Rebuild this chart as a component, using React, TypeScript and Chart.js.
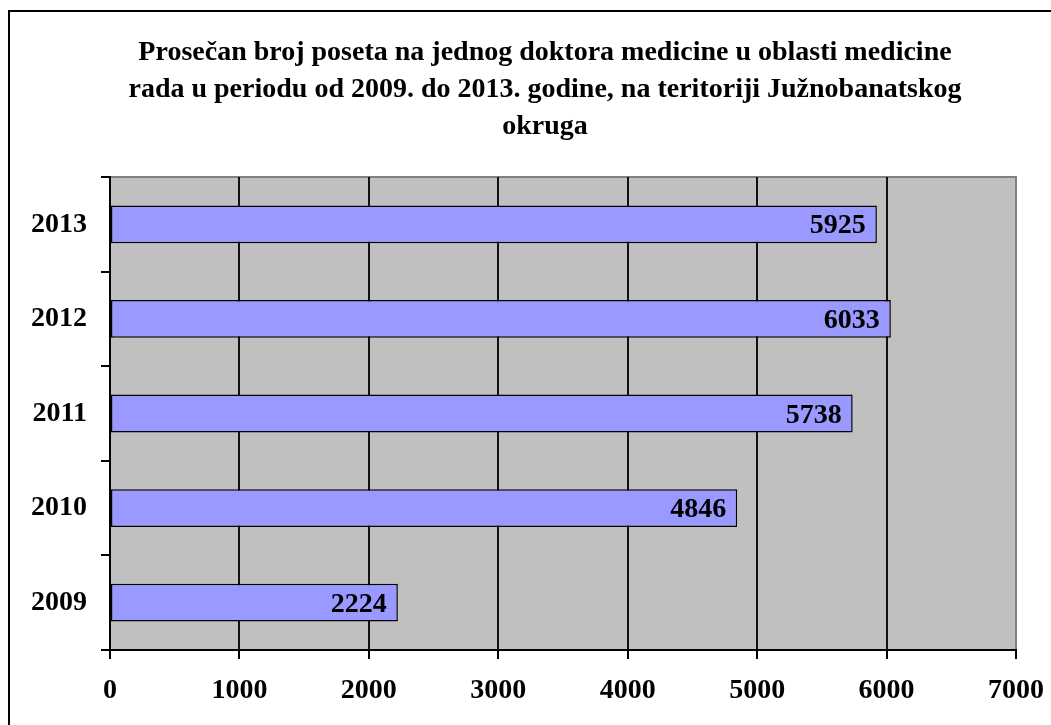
import React, { useEffect, useRef } from "react";
import { Chart, registerables } from "chart.js";

Chart.register(...registerables);

const titleLines = [
  "Prosečan broj poseta na jednog doktora medicine u oblasti medicine",
  "rada u periodu od 2009. do 2013. godine, na teritoriji Južnobanatskog",
  "okruga",
];
const years = ["2009", "2010", "2011", "2012", "2013"];
const visits = [2224, 4846, 5738, 6033, 5925];
const xMin = 0;
const xMax = 7000;
const xStep = 1000;

const FONT = "'Liberation Serif', 'Times New Roman', serif";
const FONT_SIZE = 28;

const plotBgPlugin = {
  id: "plotBg",
  beforeDraw(chart: any) {
    const { ctx, chartArea } = chart;
    if (!chartArea) return;
    ctx.save();
    ctx.fillStyle = "#C0C0C0";
    ctx.fillRect(chartArea.left, chartArea.top, chartArea.right - chartArea.left, chartArea.bottom - chartArea.top);
    ctx.strokeStyle = "#808080";
    ctx.lineWidth = 2;
    ctx.beginPath();
    ctx.moveTo(chartArea.left, chartArea.top);
    ctx.lineTo(chartArea.right, chartArea.top);
    ctx.lineTo(chartArea.right, chartArea.bottom);
    ctx.stroke();
    ctx.restore();
  },
};

const titlePlugin = {
  id: "customTitle",
  afterDraw(chart: any) {
    const { ctx } = chart;
    ctx.save();
    ctx.font = `bold ${FONT_SIZE}px ${FONT}`;
    ctx.fillStyle = "#000";
    ctx.textAlign = "center";
    ctx.textBaseline = "alphabetic";
    titleLines.forEach((line, i) => {
      ctx.fillText(line, 545, 60 + i * 37);
    });
    ctx.restore();
  },
};

const valueLabelPlugin = {
  id: "valueLabels",
  afterDatasetsDraw(chart: any) {
    const { ctx } = chart;
    const meta = chart.getDatasetMeta(0);
    const data = chart.data.datasets[0].data as number[];
    ctx.save();
    ctx.font = `bold ${FONT_SIZE}px ${FONT}`;
    ctx.fillStyle = "#000";
    ctx.textAlign = "right";
    ctx.textBaseline = "alphabetic";
    meta.data.forEach((bar: any, i: number) => {
      ctx.fillText(String(data[i]), bar.x - 11, bar.y + 9);
    });
    ctx.restore();
  },
};

export default function App() {
  const canvasRef = useRef<HTMLCanvasElement | null>(null);

  useEffect(() => {
    if (!canvasRef.current) return;
    const chart = new Chart(canvasRef.current, {
      type: "bar",
      data: {
        labels: years,
        datasets: [
          {
            data: visits,
            backgroundColor: "#9999FF",
            borderColor: "#000",
            borderWidth: 1.5,
            borderSkipped: false,
            barPercentage: 0.5,
            categoryPercentage: 0.8,
          },
        ],
      },
      options: {
        indexAxis: "y",
        animation: false,
        responsive: false,
        devicePixelRatio: 1,
        layout: { padding: { left: 0, right: 35, top: 177, bottom: 0 } },
        plugins: {
          legend: { display: false },
          tooltip: { enabled: false },
          title: { display: false },
        },
        scales: {
          x: {
            min: xMin,
            max: xMax,
            afterFit(scale: any) {
              scale.height = 75;
              scale.paddingRight = 0;
            },
            ticks: {
              stepSize: xStep,
              color: "#000",
              font: { family: FONT, size: FONT_SIZE, weight: "bold" },
              padding: 15,
              maxRotation: 0,
              callback: (v: any) => String(v),
            },
            grid: {
              color: (c: any) => (c.tick && c.tick.value === xMax ? "#808080" : "#111"),
              tickColor: "#000",
              lineWidth: 2,
              tickLength: 9,
            },
            border: { color: "#000", width: 2 },
          },
          y: {
            reverse: true,
            afterFit(scale: any) {
              scale.width = 110;
            },
            ticks: {
              color: "#000",
              font: { family: FONT, size: FONT_SIZE, weight: "bold" },
              padding: 14,
            },
            grid: {
              drawOnChartArea: false,
              drawTicks: true,
              tickLength: 9,
              tickColor: "#000",
              lineWidth: 2,
              offset: true,
            },
            border: { color: "#000", width: 2 },
          },
        },
      },
      plugins: [plotBgPlugin, valueLabelPlugin, titlePlugin],
    });
    return () => chart.destroy();
  }, []);

  return (
    <div style={{ position: "absolute", left: 0, top: 0, width: 1051, height: 725, background: "#fff", overflow: "hidden" }}>
      <div
        style={{
          position: "absolute",
          left: 8,
          top: 10,
          width: 1051,
          height: 725,
          borderLeft: "2px solid #000",
          borderTop: "2px solid #000",
          boxSizing: "border-box",
        }}
      />
      <canvas ref={canvasRef} width={1051} height={725} style={{ position: "absolute", left: 0, top: 0 }} />
    </div>
  );
}
